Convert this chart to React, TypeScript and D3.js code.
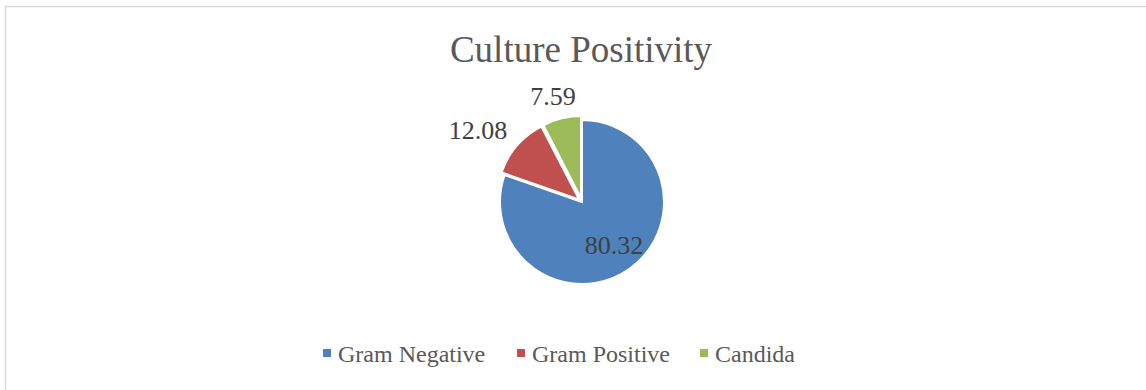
import React from "react";
import * as d3 from "d3";

const categories = ["Gram Negative", "Gram Positive", "Candida"];
const values = [80.32, 12.08, 7.59];
const colors = ["#4F81BD", "#C0504D", "#9BBB59"];
const title = "Culture Positivity";

const W = 1146;
const H = 390;
const FONT = '"Liberation Serif", "Times New Roman", Times, "DejaVu Serif", serif';

export default function App() {
  const cx = 582;
  const cy = 202;
  const r = 82;
  const pie = d3.pie<number>().sort(null).value((d) => d)(values);
  const arc = d3.arc<d3.PieArcDatum<number>>().innerRadius(0).outerRadius(r);
  const explode = [0, 4, 4];
  const labelPos: [number, number][] = [
    [cx + 32, cy + 52],
    [cx - 104, cy - 63],
    [cx - 29, cy - 97],
  ];
  const legendX = [323, 517, 700];
  return (
    <svg
      width={W}
      height={H}
      style={{ position: "absolute", left: 0, top: 0, display: "block", fontFamily: FONT }}
    >
      <rect x={0} y={0} width={W} height={H} fill="#fff" />
      <rect x={5.5} y={6.5} width={W} height={H} fill="none" stroke="#d9d9d9" strokeWidth={1.5} />
      <text x={581} y={62} textAnchor="middle" fontSize={37} fill="#595959" style={{ fontFamily: FONT }}>
        {title}
      </text>
      <g transform={`translate(${cx},${cy})`}>
        {pie.map((p, i) => {
          const mid = (p.startAngle + p.endAngle) / 2;
          const dx = Math.sin(mid) * explode[i];
          const dy = -Math.cos(mid) * explode[i];
          return (
            <path
              key={i}
              d={arc(p) || ""}
              fill={colors[i]}
              stroke="#fff"
              strokeWidth={2}
              transform={`translate(${dx},${dy})`}
            />
          );
        })}
      </g>
      {values.map((v, i) => (
        <text
          key={i}
          x={labelPos[i][0]}
          y={labelPos[i][1]}
          textAnchor="middle"
          fontSize={26}
          fill="#404040"
          style={{ fontFamily: FONT }}
        >
          {v.toFixed(2)}
        </text>
      ))}
      {categories.map((c, i) => (
        <g key={c}>
          <rect x={legendX[i]} y={349} width={8} height={8} fill={colors[i]} />
          <text x={legendX[i] + 15} y={362} fontSize={24} fill="#595959" style={{ fontFamily: FONT }}>
            {c}
          </text>
        </g>
      ))}
    </svg>
  );
}
